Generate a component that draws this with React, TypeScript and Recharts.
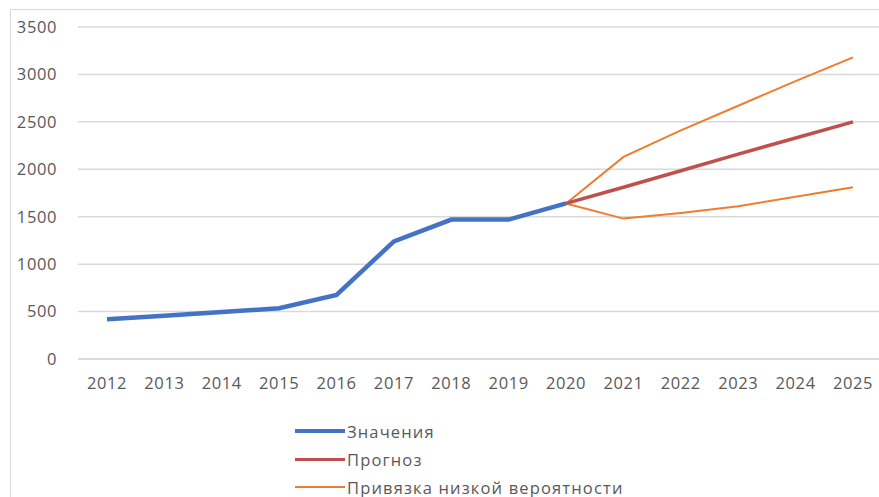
import { LineChart, Line, XAxis, YAxis, CartesianGrid } from 'recharts';

const years = ['2012', '2013', '2014', '2015', '2016', '2017', '2018', '2019', '2020', '2021', '2022', '2023', '2024', '2025'];
const actual = [420, 455, 495, 535, 675, 1240, 1470, 1470, 1640, null, null, null, null, null];
const forecast = [null, null, null, null, null, null, null, null, 1640, 1810, 1985, 2160, 2330, 2500];
const upper = [null, null, null, null, null, null, null, null, 1640, 2130, 2410, 2670, 2930, 3180];
const lower = [null, null, null, null, null, null, null, null, 1640, 1480, 1540, 1610, 1710, 1810];
const yTicks = [0, 500, 1000, 1500, 2000, 2500, 3000, 3500];

const data = years.map((year, i) => ({
  year,
  actual: actual[i],
  forecast: forecast[i],
  upper: upper[i],
  lower: lower[i],
}));

const legendItems = [
  { label: 'Значения', color: '#4472C4', width: 4 },
  { label: 'Прогноз', color: '#C0504D', width: 3 },
  { label: 'Привязка низкой вероятности', color: '#ED7D31', width: 2 },
];

const fontFamily = '"Open Sans", "DejaVu Sans", sans-serif';
const tickStyle = { fill: '#595959', fontSize: 16.5, fontFamily, letterSpacing: 0.6 };

export default function App() {
  return (
    <div style={{ position: 'fixed', left: 0, top: 0, width: 879, height: 497, overflow: 'hidden', background: '#fff' }}>
      <div style={{ position: 'absolute', left: 10, top: 9, width: 1000, height: 600, border: '1px solid #d9d9d9' }} />
      <div style={{ position: 'absolute', left: 0, top: 0 }}>
        <LineChart width={900} height={497} data={data} margin={{ top: 27, right: 18, left: 0, bottom: 98 }}>
          <CartesianGrid vertical={false} stroke="#d9d9d9" strokeWidth={1.5} />
          <XAxis
            dataKey="year"
            height={40}
            padding={{ left: 29, right: 29 }}
            axisLine={{ stroke: '#d9d9d9', strokeWidth: 1.5 }}
            tickLine={false}
            tickSize={0}
            tickMargin={18}
            tick={tickStyle}
            interval={0}
          />
          <YAxis
            width={78}
            domain={[0, 3500]}
            ticks={yTicks}
            axisLine={false}
            tickLine={false}
            tickSize={0}
            tickMargin={21}
            tick={tickStyle}
          />
          <Line dataKey="upper" stroke="#ED7D31" strokeWidth={2} dot={false} isAnimationActive={false} />
          <Line dataKey="lower" stroke="#ED7D31" strokeWidth={2} dot={false} isAnimationActive={false} />
          <Line dataKey="forecast" stroke="#C0504D" strokeWidth={3.5} dot={false} isAnimationActive={false} />
          <Line dataKey="actual" stroke="#4472C4" strokeWidth={4.5} dot={false} isAnimationActive={false} />
        </LineChart>
      </div>
      <div style={{ position: 'absolute', left: 295, top: 417, fontFamily, fontSize: 16.5, letterSpacing: 1.15, color: '#595959' }}>
        {legendItems.map((item) => (
          <div key={item.label} style={{ display: 'flex', alignItems: 'center', height: 28 }}>
            <div style={{ width: 50, height: item.width, background: item.color, marginRight: 2 }} />
            <span>{item.label}</span>
          </div>
        ))}
      </div>
    </div>
  );
}
